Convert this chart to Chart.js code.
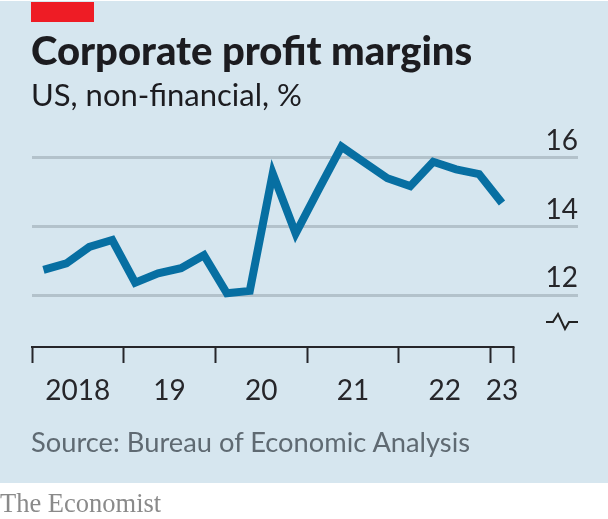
<!DOCTYPE html>
<html>
<head>
<meta charset="utf-8">
<script src="https://cdn.jsdelivr.net/npm/chart.js@4/dist/chart.umd.min.js"></script>
<style>
  html, body { margin: 0; padding: 0; background: #fff; }
  #wrap { position: relative; width: 608px; height: 519px; overflow: hidden; }
  #panel { position: absolute; left: 0; top: 1px; width: 608px; height: 482px; background: #d6e6ef; }
  #red { position: absolute; left: 31px; top: 2px; width: 63px; height: 20px; background: #ee1c25; }
  #chart { position: absolute; left: 0; top: 0; }
  .txt { position: absolute; white-space: nowrap; }
  #title { left: 31px; top: 26px; font: 900 40px Lato, sans-serif; color: #1c1c20; }
  #subtitle { left: 31px; top: 75px; font: 31px Lato, sans-serif; color: #1c1c20; }
  #source { left: 31px; top: 425px; font: 27.3px Lato, sans-serif; color: #5f6a72; }
  #brand { left: 0; top: 488px; font: 26.5px "Liberation Serif", serif; color: #8a8a8a; }
  #brk { position: absolute; left: 546px; top: 312px; }
</style>
</head>
<body>
<div id="wrap">
  <div id="panel"></div>
  <div id="red"></div>
  <canvas id="chart" width="608" height="519"></canvas>
  <div class="txt" id="title">Corporate profit margins</div>
  <div class="txt" id="subtitle">US, non-financial, %</div>
  <svg id="brk" width="32" height="20"><path d="M0 10 H7 L12 2 L19 17 L23 10 H32" fill="none" stroke="#222" stroke-width="2"/></svg>
  <div class="txt" id="source">Source: Bureau of Economic Analysis</div>
  <div class="txt" id="brand">The Economist</div>
</div>
<script>
// Quarterly data
const quarters = [2018.125, 2018.375, 2018.625, 2018.875, 2019.125, 2019.375, 2019.625, 2019.875,
    2020.125, 2020.375, 2020.625, 2020.875, 2021.125, 2021.375, 2021.625, 2021.875,
    2022.125, 2022.375, 2022.625, 2022.875, 2023.125];
const margins = [12.74, 12.93, 13.41, 13.61, 12.37, 12.64, 12.79, 13.17,
    12.06, 12.13, 15.55, 13.80, 15.08, 16.33, 15.87, 15.41,
    15.18, 15.89, 15.67, 15.53, 14.69];
const yTicks = [12, 14, 16];
const yearTicks = [2018, 2019, 2020, 2021, 2022, 2023, 2023.25];
const yearLabelPos = [2018.5, 2019.5, 2020.5, 2021.5, 2022.5, 2023.125];
const yearLabels = ['2018', '19', '20', '21', '22', '23'];

const labelFont = { family: 'Lato, sans-serif', size: 28 };
const inkColor = '#26262a';

// Axis line stops at the end of the data period, not at the end of the gridlines
const axisLine = {
    id: 'axisLine',
    afterDatasetsDraw(chart) {
        const { ctx, scales } = chart;
        ctx.save();
        ctx.strokeStyle = inkColor;
        ctx.lineWidth = 2;
        ctx.beginPath();
        ctx.moveTo(scales.x.getPixelForValue(yearTicks[0]) - 1, chart.chartArea.bottom);
        ctx.lineTo(scales.x.getPixelForValue(yearTicks[yearTicks.length - 1]) + 1, chart.chartArea.bottom);
        ctx.stroke();
        ctx.restore();
    }
};

new Chart(document.getElementById('chart').getContext('2d'), {
    type: 'line',
    data: {
        datasets: [{
            data: quarters.map((q, i) => ({ x: q, y: margins[i] })),
            borderColor: '#076fa2',
            borderWidth: 8,
            pointRadius: 0,
            tension: 0,
            borderJoinStyle: 'miter',
            borderCapStyle: 'butt'
        }]
    },
    plugins: [axisLine],
    options: {
        responsive: false,
        animation: false,
        layout: { padding: { left: 32, right: 30, top: 120, bottom: 116 } },
        plugins: { legend: { display: false }, tooltip: { enabled: false } },
        scales: {
            x: {
                type: 'linear',
                position: 'bottom',
                min: 2018,
                max: 2023.954,
                border: { display: false },
                grid: { drawOnChartArea: false, drawTicks: true, tickLength: 16, tickColor: inkColor, tickWidth: 2 },
                ticks: { display: false },
                afterBuildTicks: axis => { axis.ticks = yearTicks.map(v => ({ value: v })); },
                afterFit: axis => { axis.height = 16; }
            },
            years: {
                type: 'linear',
                position: 'bottom',
                min: 2018,
                max: 2023.954,
                border: { display: false },
                grid: { display: false },
                ticks: {
                    color: inkColor,
                    font: labelFont,
                    padding: 3,
                    maxRotation: 0,
                    autoSkip: false,
                    callback: v => yearLabels[yearLabelPos.indexOf(v)]
                },
                afterBuildTicks: axis => { axis.ticks = yearLabelPos.map(v => ({ value: v })); },
                afterFit: axis => { axis.height = 40; }
            },
            y: {
                position: 'right',
                min: 10.495,
                max: 17.106,
                border: { display: false },
                grid: { color: '#b3c2cb', lineWidth: 3, drawTicks: false },
                ticks: { color: inkColor, font: labelFont, mirror: true, padding: 0, labelOffset: -17 },
                afterBuildTicks: axis => { axis.ticks = yTicks.map(v => ({ value: v })); },
                afterFit: axis => { axis.width = 0; }
            }
        }
    }
});
</script>
</body>
</html>
